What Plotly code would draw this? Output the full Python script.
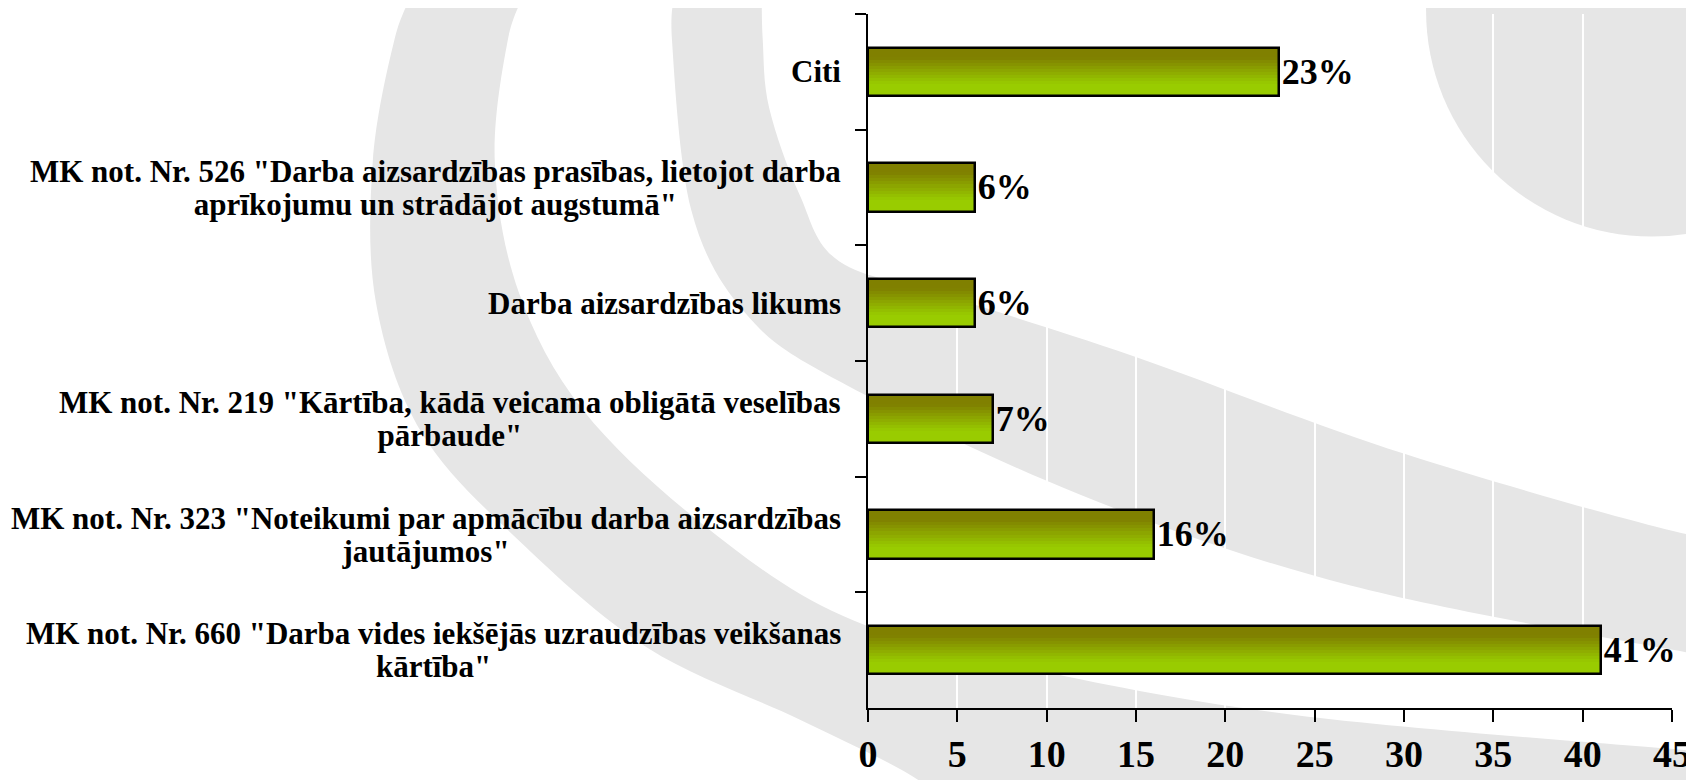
import plotly.graph_objects as go

categories = [
    "Citi",
    'MK not. Nr. 526 "Darba aizsardzības prasības, lietojot darba<br>aprīkojumu un strādājot augstumā"',
    "Darba aizsardzības likums",
    'MK not. Nr. 219 "Kārtība, kādā veicama obligātā veselības<br>pārbaude"',
    'MK not. Nr. 323 "Noteikumi par apmācību darba aizsardzības<br>jautājumos"',
    'MK not. Nr. 660 "Darba vides iekšējās uzraudzības veikšanas<br>kārtība"',
]
values = [23, 6, 6, 7, 16, 41]
x_ticks = [0, 5, 10, 15, 20, 25, 30, 35, 40, 45]

# the page body keeps its default 8px margin, so the figure is drawn 8px in
OFF = 8
W, H = 1694 - OFF, 780 - OFF
L, R, T, B = 868 - OFF, 22, 14 - OFF, 72
PW, PH = W - L - R, H - T - B
S = 1694 / 1568  # reference was measured at 1568 wide

FONT = "Liberation Serif, Times New Roman, serif"


def to_paper(x, y):
    X, Y = x * S - OFF, y * S - OFF
    return (X - L) / PW, 1 - (Y - T) / PH


def smooth(pts):
    # catmull-rom through the points -> cubic bezier segments
    p = [to_paper(*q) for q in pts]
    out = []
    for i in range(len(p) - 1):
        p0 = p[i - 1] if i > 0 else p[i]
        p1, p2 = p[i], p[i + 1]
        p3 = p[i + 2] if i + 2 < len(p) else p[i + 1]
        c1 = (p1[0] + (p2[0] - p0[0]) / 6, p1[1] + (p2[1] - p0[1]) / 6)
        c2 = (p2[0] - (p3[0] - p1[0]) / 6, p2[1] - (p3[1] - p1[1]) / 6)
        out.append("C %.4f,%.4f %.4f,%.4f %.4f,%.4f" % (c1 + c2 + p2))
    return p[0], " ".join(out)


def band(outer, inner):
    s0, c_out = smooth(outer)
    s1, c_in = smooth(inner)
    return "M %.4f,%.4f %s L %.4f,%.4f %s Z" % (s0 + (c_out,) + s1 + (c_in,))


band_a = band(
    [(384, -10), (365, 37), (345, 150), (348, 280), (390, 400), (480, 500),
     (600, 600), (740, 666), (850, 722), (880, 760)],
    [(1620, 760), (1620, 698), (1568, 695), (1200, 662), (950, 618), (780, 570),
     (650, 485), (540, 380), (480, 270), (458, 150), (470, 37), (488, -10)],
)
band_b = band(
    [(626, -10), (622, 37), (640, 195), (690, 290), (777, 353), (1000, 458),
     (1250, 542), (1568, 605), (1620, 610)],
    [(1620, 490), (1568, 496), (1300, 420), (1050, 330), (880, 275), (777, 242),
     (740, 180), (712, 100), (706, 37), (705, -10)],
)
cx0, cy0 = to_paper(1529 - 209, 10 - 209)
cx1, cy1 = to_paper(1529 + 209, 10 + 209)

GRAY = "#E6E6E6"
shapes = [
    dict(type="path", path=band_a, xref="paper", yref="paper", fillcolor=GRAY,
         line_width=0, layer="below"),
    dict(type="path", path=band_b, xref="paper", yref="paper", fillcolor=GRAY,
         line_width=0, layer="below"),
    dict(type="circle", x0=cx0, y0=cy1, x1=cx1, y1=cy0, xref="paper", yref="paper",
         fillcolor=GRAY, line_width=0, layer="below"),
]

fig = go.Figure()

# gradient bars: thin horizontal stripes from olive (top) to lime (bottom)
bw = 0.42
n = 16
for i in range(n):
    t = (i + 0.5) / n
    a = 0 if t < 0.2 else (1 if t > 0.75 else (t - 0.2) / 0.55)
    col = "rgb(%d,%d,0)" % (128 + 25 * a, 128 + 76 * a)
    fig.add_trace(go.Bar(
        y=categories, x=values, orientation="h",
        width=bw / n * 1.15, offset=-bw / 2 + i * bw / n,
        marker_color=col, marker_line_width=0,
        hoverinfo="skip", showlegend=False,
    ))

fig.add_trace(go.Bar(
    y=categories, x=values, orientation="h", width=bw, offset=-bw / 2,
    marker=dict(color="rgba(0,0,0,0)", line=dict(color="black", width=2.5)),
    text=[f"{v}%" for v in values], textposition="outside",
    textfont=dict(family=FONT, size=36, color="black", weight="bold"),
    constraintext="none", cliponaxis=False, showlegend=False,
    hovertemplate="%{y}: %{x}%<extra></extra>",
))

# category labels: centred lines; small base size keeps the line gap tight,
# the span sets the glyph size
annotations = [
    dict(x=0, y=c, xref="paper", yref="y", showarrow=False,
         text="<br>".join('<span style="font-size:31px">%s</span>' % s
                          for s in c.split("<br>")),
         xanchor="right", xshift=-25, align="center",
         font=dict(family=FONT, size=25, color="black", weight="bold"))
    for c in categories
]

fig.update_layout(
    width=W, height=H,
    margin=dict(l=L, r=R, t=T, b=B),
    paper_bgcolor="white", plot_bgcolor="rgba(0,0,0,0)",
    barmode="overlay", bargap=0,
    shapes=shapes, annotations=annotations,
    font=dict(family=FONT, color="black"),
)
fig.update_xaxes(
    range=[0, 45], tickvals=x_ticks, showgrid=True, gridcolor="white", gridwidth=2,
    zeroline=False, showline=True, linecolor="black", linewidth=2,
    ticks="outside", ticklen=12, tickwidth=2, tickcolor="black",
    tickfont=dict(family=FONT, size=38, color="black", weight="bold"),
    ticklabelstandoff=-1, automargin=False,
)
fig.update_yaxes(
    autorange="reversed", showticklabels=False, showgrid=False, zeroline=False,
    showline=True, linecolor="black", linewidth=2, automargin=False,
    ticks="outside", tickson="boundaries", ticklen=11, tickwidth=2, tickcolor="black",
)

fig.write_html("out.html")
